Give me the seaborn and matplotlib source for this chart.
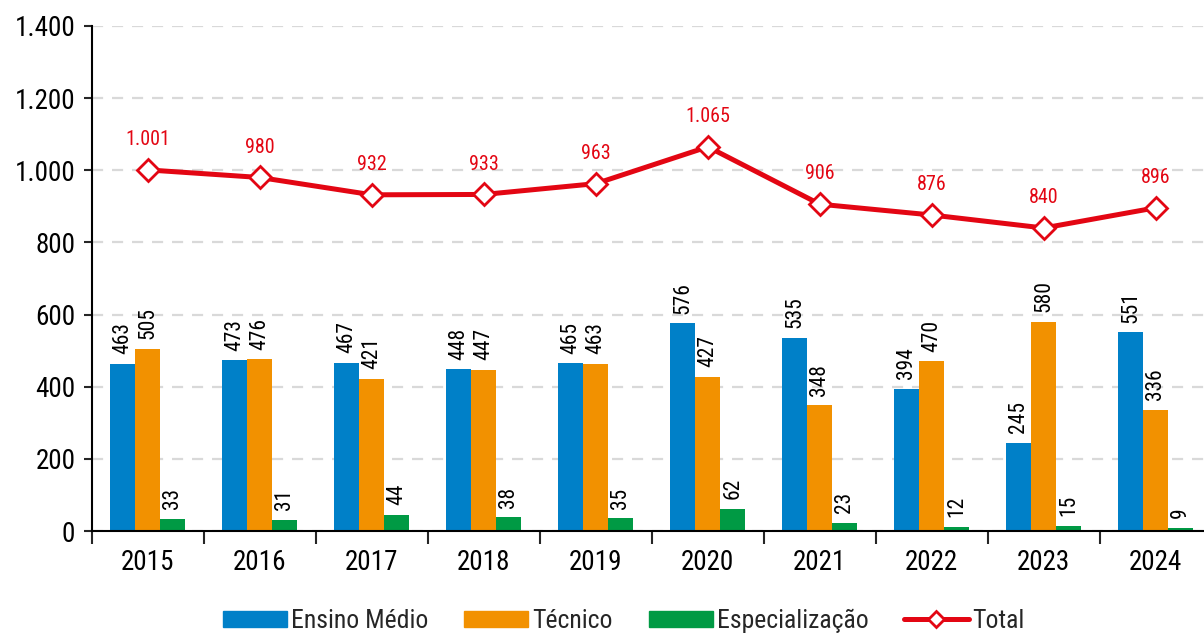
import pandas as pd
import matplotlib.pyplot as plt
import seaborn as sns
import numpy as np

# Data
years = ["2015", "2016", "2017", "2018", "2019", "2020", "2021", "2022", "2023", "2024"]
ensino_medio = [463, 473, 467, 448, 465, 576, 535, 394, 245, 551]
tecnico = [505, 476, 421, 447, 463, 427, 348, 470, 580, 336]
especializacao = [33, 31, 44, 38, 35, 62, 23, 12, 15, 9]
total = [1001, 980, 932, 933, 963, 1065, 906, 876, 840, 896]

series_names = ["Ensino Médio", "Técnico", "Especialização"]
colors = ["#0080C8", "#F29100", "#009A44"]
red = "#E30613"

sns.set_style("white")
plt.rcParams["font.family"] = ["Roboto Condensed", "DejaVu Sans"]


def fmt(v):
    return f"{v:,}".replace(",", ".")


df = pd.DataFrame({
    "ano": years * 3,
    "serie": [s for s in series_names for _ in years],
    "valor": ensino_medio + tecnico + especializacao,
})

fig = plt.figure(figsize=(12.04, 6.37), dpi=100)
ax = fig.add_axes([0.0764, 0.1664, 0.930, 0.7928])

sns.barplot(data=df, x="ano", y="valor", hue="serie", hue_order=series_names,
            palette=colors, width=0.67, saturation=1, ax=ax, legend=False,
            errorbar=None, linewidth=0)

for cont in ax.containers:
    ax.bar_label(cont, rotation=90, padding=7, fontsize=15.5, color="black")

x = np.arange(len(years))
ax.plot(x, total, color=red, lw=3.6, marker="D", markersize=11,
        markerfacecolor="white", markeredgecolor=red, markeredgewidth=2,
        label="Total", zorder=5)
for xi, v in zip(x, total):
    ax.annotate(fmt(v), (xi, v), xytext=(0, 15),
                textcoords="offset points", ha="center", va="bottom",
                color=red, fontsize=14.5)

ax.set_ylim(0, 1400)
ax.set_yticks(range(0, 1401, 200))
ax.set_yticklabels([fmt(v) for v in range(0, 1401, 200)])
ax.set_xlim(-0.5, 9.5)
ax.set_xlabel("")
ax.set_ylabel("")
ax.yaxis.grid(True, color="#d9d9d9", linestyle=(0, (5, 4)), lw=1.6)
ax.set_axisbelow(True)
ax.spines[["top", "right"]].set_visible(False)
for s in ["left", "bottom"]:
    ax.spines[s].set_color("black")
    ax.spines[s].set_linewidth(1.5)
ax.tick_params(axis="y", left=True, length=6, width=1.5, labelsize=19.5, pad=6,
               labelcolor="black")
ax.tick_params(axis="x", which="major", length=0, labelsize=19.5, pad=13,
               labelcolor="black")
ax.set_xticks(np.arange(-0.5, 10, 1), minor=True)
ax.tick_params(axis="x", which="minor", bottom=True, length=9, width=1.5)

handles = [plt.Rectangle((0, 0), 1, 1, color=c) for c in colors]
handles.append(plt.Line2D([], [], color=red, lw=3.6, marker="D", markersize=8,
                          markerfacecolor="white", markeredgecolor=red,
                          markeredgewidth=2))
fig.legend(handles, series_names + ["Total"], loc="lower center",
           bbox_to_anchor=(0.518, -0.03), ncol=4, frameon=False, fontsize=18.5,
           handlelength=2.5, handleheight=0.6, handletextpad=0.15,
           columnspacing=1.4)

fig.savefig("out.png", dpi=100)
